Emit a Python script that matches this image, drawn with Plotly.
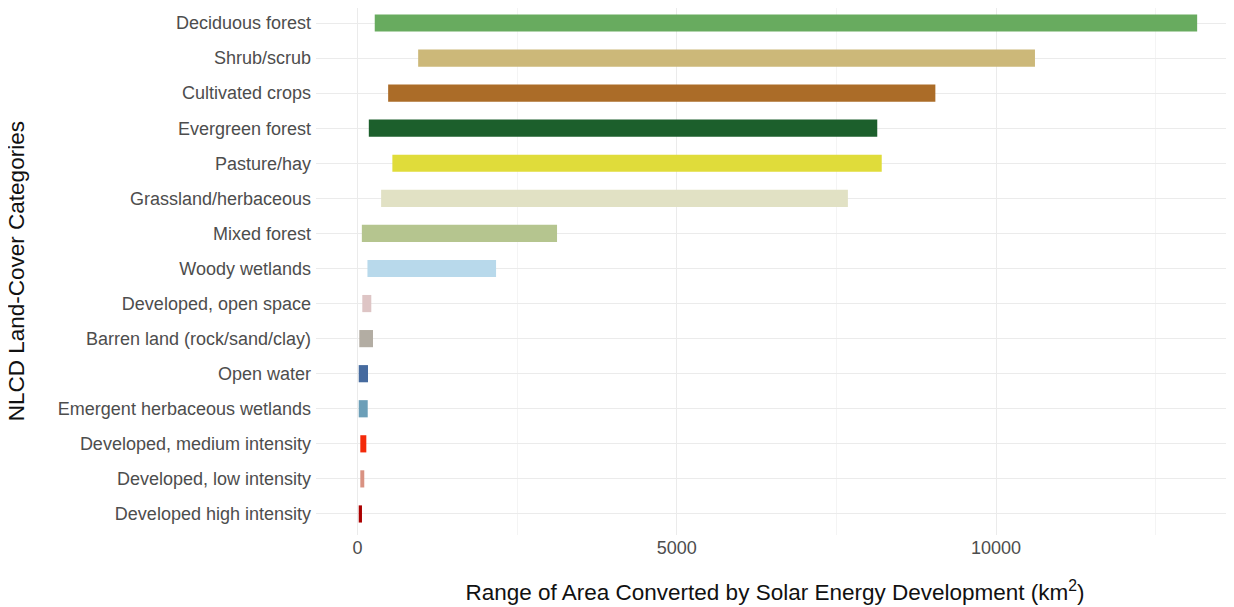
import plotly.graph_objects as go

categories = [
    "Deciduous forest", "Shrub/scrub", "Cultivated crops", "Evergreen forest",
    "Pasture/hay", "Grassland/herbaceous", "Mixed forest", "Woody wetlands",
    "Developed, open space", "Barren land (rock/sand/clay)", "Open water",
    "Emergent herbaceous wetlands", "Developed, medium intensity",
    "Developed, low intensity", "Developed high intensity",
]
range_min = [270, 950, 480, 177, 546, 370, 68, 156, 75, 28, 19, 19, 44, 44, 19]
range_max = [13150, 10610, 9050, 8140, 8210, 7680, 3125, 2170, 216, 243, 164, 160, 138, 106, 70]
colors = [
    "#68AB5F", "#CCB879", "#AB6C28", "#1C5F2C", "#E0DC3A", "#E1E1C4",
    "#B5C58F", "#B8D9EB", "#DEC5C5", "#B3ADA3", "#466B9F", "#6C9FB8",
    "#F42A0A", "#D99282", "#AB0000",
]
x_ticks = [0, 5000, 10000]

fig = go.Figure()
fig.add_trace(go.Bar(
    y=categories,
    x=[b - a for a, b in zip(range_min, range_max)],
    base=range_min,
    orientation="h",
    marker=dict(color=colors, line=dict(width=0)),
    width=0.49,
    showlegend=False,
))

FONT = "Liberation Sans, Arial, sans-serif"
fig.update_layout(
    width=1226, height=599,
    margin=dict(l=308, r=0, t=0, b=72),
    plot_bgcolor="white", paper_bgcolor="white",
    font=dict(family=FONT, size=18, color="#4D4D4D"),
    xaxis=dict(
        range=[-650, 13727],
        tickvals=x_ticks,
        ticktext=[str(v) for v in x_ticks],
        showgrid=True, gridcolor="#EBEBEB", gridwidth=1,
        minor=dict(tickvals=[2500, 7500, 12500], showgrid=True, gridcolor="#F4F4F4", gridwidth=1),
        zeroline=False, showline=False, ticks="",
        tickfont=dict(family=FONT, size=18, color="#4D4D4D"),
        title=dict(text="Range of Area Converted by Solar Energy Development (km<sup>2</sup>)",
                   font=dict(family=FONT, size=22.5, color="#111111"), standoff=27),
    ),
    yaxis=dict(
        categoryorder="array", categoryarray=categories[::-1],
        range=[-0.6, 14.428],
        showgrid=True, gridcolor="#EBEBEB", gridwidth=1,
        zeroline=False, showline=False, ticks="",
        tickfont=dict(family=FONT, size=18, color="#4D4D4D"),
        ticklabelstandoff=4,
    ),
    annotations=[dict(
        text="NLCD Land-Cover Categories", textangle=-90,
        xref="paper", yref="paper", x=-0.326, y=0.5,
        xanchor="center", yanchor="middle", showarrow=False,
        font=dict(family=FONT, size=22.5, color="#111111"),
    )],
)

fig.write_html("out.html")
